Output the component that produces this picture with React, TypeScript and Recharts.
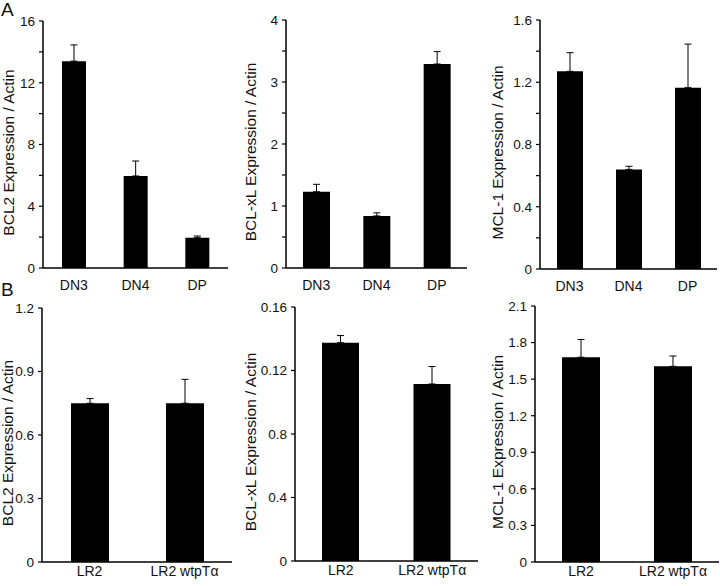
import { BarChart, Bar, XAxis, YAxis, ErrorBar } from "recharts"

// row A: thymocyte subsets
const topCats = ["DN3", "DN4", "DP"]
const bcl2Top = [13.4, 5.96, 1.96]
const bcl2TopErr = [1.05, 0.97, 0.11]
const bclxlTop = [1.23, 0.84, 3.29]
const bclxlTopErr = [0.12, 0.05, 0.2]
const mcl1Top = [1.27, 0.64, 1.165]
const mcl1TopErr = [0.12, 0.02, 0.28]

// row B: cell lines
const bottomCats = ["LR2", "LR2 wtpTα"]
const bcl2Bottom = [0.75, 0.75]
const bcl2BottomErr = [0.022, 0.113]
const bclxlBottom = [0.1375, 0.1115]
const bclxlBottomErr = [0.0045, 0.011]
const mcl1Bottom = [1.68, 1.605]
const mcl1BottomErr = [0.145, 0.085]

// y ticks (empty label = minor tick)
const ticksA1 = [0, 2, 4, 6, 8, 10, 12, 14, 16]
const labelsA1 = ["0", "", "4", "", "8", "", "12", "", "16"]
const ticksA2 = [0, 0.5, 1, 1.5, 2, 2.5, 3, 3.5, 4]
const labelsA2 = ["0", "", "1", "", "2", "", "3", "", "4"]
const ticksA3 = [0, 0.2, 0.4, 0.6, 0.8, 1.0, 1.2, 1.4, 1.6]
const labelsA3 = ["0", "", "0.4", "", "0.8", "", "1.2", "", "1.6"]
const ticksB1 = [0, 0.3, 0.6, 0.9, 1.2]
const labelsB1 = ["0", "0.3", "0.6", "0.9", "1.2"]
const ticksB2 = [0, 0.04, 0.08, 0.12, 0.16]
const labelsB2 = ["0", "0.4", "0.8", "0.12", "0.16"] // as printed in the figure
const ticksB3 = [0, 0.3, 0.6, 0.9, 1.2, 1.5, 1.8, 2.1]
const labelsB3 = ["0", "0.3", "0.6", "0.9", "1.2", "1.5", "1.8", "2.1"]

const FONT = "'Liberation Sans', Arial, sans-serif"

type Geo = {
  left: number
  top: number
  width: number
  height: number
  margin: { top: number; right: number; bottom: number; left: number }
  yWidth: number
  xHeight: number
  catGap: number
  barSize: number
  labelX: number
}

function Panel(props: {
  cats: string[]
  values: number[]
  errors: number[]
  ticks: number[]
  tickLabels: string[]
  title: string
  g: Geo
}) {
  const { cats, values, errors, ticks, tickLabels, title, g } = props
  const data = cats.map((c, i) => ({ name: c, value: values[i], err: [0, errors[i]] }))
  const plotH = g.height - g.margin.top - g.margin.bottom - g.xHeight
  const labelY = g.margin.top + plotH / 2 + 8
  const edges = cats.map((_, i) => i).concat([cats.length])

  return (
    <div style={{ position: "absolute", left: g.left, top: g.top }}>
      <BarChart width={g.width} height={g.height} data={data} margin={g.margin}>
        {/* boundary ticks between categories */}
        <XAxis
          xAxisId="edge"
          type="number"
          domain={[0, cats.length]}
          ticks={edges}
          allowDataOverflow
          height={0}
          axisLine={false}
          tickLine={{ stroke: "#000", strokeWidth: 1.5 }}
          tickSize={4}
          tickFormatter={() => ""}
        />
        <XAxis
          dataKey="name"
          height={g.xHeight}
          axisLine={{ stroke: "#000", strokeWidth: 1.5 }}
          tickLine={false}
          tickSize={0}
          tickMargin={g.catGap}
          interval={0}
          tick={{ fill: "#111", fontSize: 14, fontFamily: FONT }}
        />
        <YAxis
          width={g.yWidth}
          domain={[0, ticks[ticks.length - 1]]}
          ticks={ticks}
          interval={0}
          axisLine={{ stroke: "#000", strokeWidth: 1.5 }}
          tickLine={{ stroke: "#000", strokeWidth: 1.2 }}
          tickSize={4}
          tickMargin={4}
          tickFormatter={(v: number) => tickLabels[ticks.indexOf(v)] ?? ""}
          tick={{ fill: "#111", fontSize: 13.5, fontFamily: FONT }}
          label={{
            content: () => (
              <text
                transform={`translate(${g.labelX},${labelY}) rotate(-90)`}
                textAnchor="middle"
                dominantBaseline="central"
                fontSize={15.5}
                fontFamily={FONT}
                fill="#111"
              >
                {title}
              </text>
            ),
          }}
        />
        <Bar dataKey="value" xAxisId={0} fill="#000" barSize={g.barSize} isAnimationActive={false}>
          <ErrorBar dataKey="err" width={3.5} stroke="#000" strokeWidth={1} direction="y" />
        </Bar>
      </BarChart>
    </div>
  )
}

const geoA1: Geo = { left: 0, top: 0, width: 240, height: 300, margin: { top: 21, right: 12, bottom: 6, left: 0 }, yWidth: 43, xHeight: 26, catGap: 12, barSize: 24, labelX: 8 }
const geoA2: Geo = { left: 240, top: 0, width: 240, height: 300, margin: { top: 20, right: 13, bottom: 6, left: 0 }, yWidth: 46, xHeight: 26, catGap: 12, barSize: 27, labelX: 10 }
const geoA3: Geo = { left: 480, top: 0, width: 240, height: 300, margin: { top: 20, right: 3, bottom: 5, left: 0 }, yWidth: 60, xHeight: 26, catGap: 12, barSize: 26, labelX: 17 }
const geoB1: Geo = { left: 0, top: 290, width: 240, height: 296, margin: { top: 18, right: 8, bottom: 4, left: 0 }, yWidth: 42, xHeight: 20, catGap: 4, barSize: 38, labelX: 7 }
const geoB2: Geo = { left: 240, top: 290, width: 240, height: 296, margin: { top: 17, right: 2, bottom: 5, left: 0 }, yWidth: 55, xHeight: 20, catGap: 4, barSize: 37, labelX: 10 }
const geoB3: Geo = { left: 480, top: 290, width: 240, height: 296, margin: { top: 16, right: 1, bottom: 4, left: 0 }, yWidth: 55, xHeight: 20, catGap: 4, barSize: 38, labelX: 17 }

export default function App() {
  return (
    <div style={{ position: "absolute", left: 0, top: 0, width: 720, height: 586, background: "#fff", fontFamily: FONT }}>
      <Panel cats={topCats} values={bcl2Top} errors={bcl2TopErr} ticks={ticksA1} tickLabels={labelsA1} title="BCL2 Expression / Actin" g={geoA1} />
      <Panel cats={topCats} values={bclxlTop} errors={bclxlTopErr} ticks={ticksA2} tickLabels={labelsA2} title="BCL-xL Expression / Actin" g={geoA2} />
      <Panel cats={topCats} values={mcl1Top} errors={mcl1TopErr} ticks={ticksA3} tickLabels={labelsA3} title="MCL-1 Expression / Actin" g={geoA3} />
      <Panel cats={bottomCats} values={bcl2Bottom} errors={bcl2BottomErr} ticks={ticksB1} tickLabels={labelsB1} title="BCL2 Expression / Actin" g={geoB1} />
      <Panel cats={bottomCats} values={bclxlBottom} errors={bclxlBottomErr} ticks={ticksB2} tickLabels={labelsB2} title="BCL-xL Expression / Actin" g={geoB2} />
      <Panel cats={bottomCats} values={mcl1Bottom} errors={mcl1BottomErr} ticks={ticksB3} tickLabels={labelsB3} title="MCL-1 Expression / Actin" g={geoB3} />
      <div style={{ position: "absolute", left: 1, top: 0, fontSize: 19, lineHeight: "19px", color: "#111" }}>A</div>
      <div style={{ position: "absolute", left: 1, top: 280, fontSize: 19, lineHeight: "19px", color: "#111" }}>B</div>
    </div>
  )
}
